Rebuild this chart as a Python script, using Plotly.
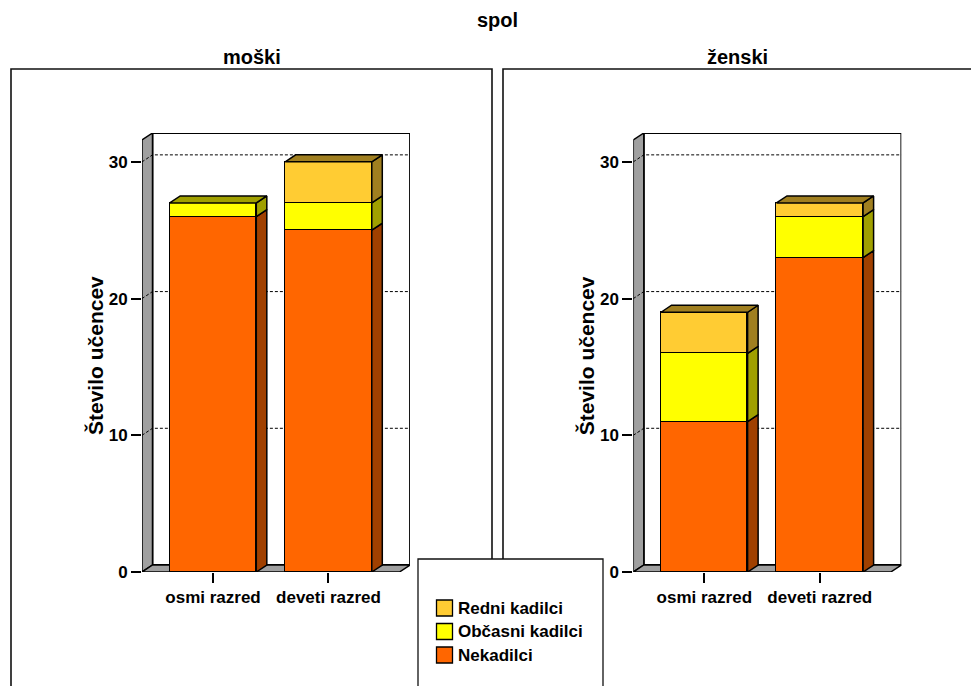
import plotly.graph_objects as go

# ---- data -------------------------------------------------------------
razredi = ["osmi razred", "deveti razred"]
skupine = ["Nekadilci", "Občasni kadilci", "Redni kadilci"]

nekadilci_m = [26, 25]
obcasni_m = [1, 2]
redni_m = [0, 3]

nekadilci_z = [11, 23]
obcasni_z = [5, 3]
redni_z = [3, 1]

y_ticks = [0, 10, 20, 30]

# ---- styling ----------------------------------------------------------
FRONT = {"Nekadilci": "#FF6600", "Občasni kadilci": "#FFFF00", "Redni kadilci": "#FFCC33"}
SHADE = {"Nekadilci": "#A04000", "Občasni kadilci": "#A0A000", "Redni kadilci": "#A07F20"}
WALL = "#A0A0A0"
FONT = "Arial, 'Liberation Sans', sans-serif"
W, H = 971, 686
LW = 1.5

# pseudo-3D geometry (axis units)
BAR_W = 0.75
X0 = -0.615          # front left edge
X1 = 1.615           # front right edge
DX = 0.091           # depth offset along x
DY = 0.512           # depth offset along y
YF = 31.6            # front top of the value axis
YTOP = YF + DY


def px(x):
    return x / W


def py(y):
    return 1 - y / H


def label(text, x, y, size, **kw):
    d = dict(text="<b>%s</b>" % text, xref="paper", yref="paper", x=px(x), y=py(y),
             showarrow=False, xanchor="center", yanchor="middle",
             font=dict(size=size, family=FONT, color="black"))
    d.update(kw)
    return d


fig = go.Figure()

panels = [
    ("moški", "x", "y", [nekadilci_m, obcasni_m, redni_m], (142, 410), 251.5, (11, 492)),
    ("ženski", "x2", "y2", [nekadilci_z, obcasni_z, redni_z], (633.3, 901.3), 737, (503, 980)),
]

shapes = []
annotations = []

for name, xa, ya, series, (dx0, dx1), title_x, (fx0, fx1) in panels:
    # outer panel frame
    shapes.append(dict(type="rect", xref="paper", yref="paper",
                       x0=px(fx0), x1=px(fx1), y0=-0.2, y1=py(69),
                       line=dict(color="#111", width=1.6), layer="below"))
    annotations.append(label(name, title_x, 57, 20))
    annotations.append(label("Število učencev", dx0 - 47, 356, 21, textangle=-90))

    line = dict(color="black", width=LW)
    # back wall
    shapes.append(dict(type="rect", xref=xa, yref=ya, x0=X0 + DX, x1=X1 + DX,
                       y0=DY, y1=YTOP, fillcolor="white", line=dict(color="black", width=1.8),
                       layer="below"))
    # left side wall
    shapes.append(dict(type="path", xref=xa, yref=ya,
                       path="M%f,%f L%f,%f L%f,%f L%f,%f Z" % (X0, 0, X0, YF, X0 + DX, YTOP, X0 + DX, DY),
                       fillcolor=WALL, line=line, layer="below"))
    # floor
    shapes.append(dict(type="path", xref=xa, yref=ya,
                       path="M%f,%f L%f,%f L%f,%f L%f,%f Z" % (X0, 0, X1, 0, X1 + DX, DY, X0 + DX, DY),
                       fillcolor=WALL, line=line, layer="below"))
    # dashed grid on side wall + back wall
    for v in y_ticks[1:]:
        shapes.append(dict(type="path", xref=xa, yref=ya,
                           path="M%f,%f L%f,%f L%f,%f" % (X0, v, X0 + DX, v + DY, X1 + DX, v + DY),
                           line=dict(color="black", width=1, dash="3px,2px"), layer="below"))

    # stacked bar fronts
    base = [0] * len(razredi)
    tops = [0] * len(razredi)
    top_group = [None] * len(razredi)
    for grp, vals in zip(skupine, series):
        fig.add_trace(go.Bar(x=[0, 1], y=vals, width=BAR_W, xaxis=xa, yaxis=ya,
                             name=grp, showlegend=False, hoverinfo="skip",
                             marker=dict(color=FRONT[grp], line=dict(color="black", width=LW))))
        # right side faces of each segment
        sx, sy = [], []
        for i, v in enumerate(vals):
            if v <= 0:
                continue
            xr = i + BAR_W / 2
            b, t = base[i], base[i] + v
            sx += [xr, xr + DX, xr + DX, xr, xr, None]
            sy += [b, b + DY, t + DY, t, b, None]
            tops[i] = t
            top_group[i] = grp
            base[i] = t
        if sx:
            fig.add_trace(go.Scatter(x=sx, y=sy, xaxis=xa, yaxis=ya, mode="lines",
                                     fill="toself", fillcolor=SHADE[grp], line=line,
                                     showlegend=False, hoverinfo="skip"))
    # top faces, coloured like the uppermost segment
    for i, t in enumerate(tops):
        grp = top_group[i]
        xl, xr = i - BAR_W / 2, i + BAR_W / 2
        fig.add_trace(go.Scatter(x=[xl, xr, xr + DX, xl + DX, xl],
                                 y=[t, t, t + DY, t + DY, t],
                                 xaxis=xa, yaxis=ya, mode="lines", fill="toself",
                                 fillcolor=SHADE[grp], line=line,
                                 showlegend=False, hoverinfo="skip"))

# legend panel
LEG_X0, LEG_X1, LEG_Y0 = 418, 603, 559
shapes.append(dict(type="rect", xref="paper", yref="paper", x0=px(LEG_X0), x1=px(LEG_X1),
                   y0=-0.2, y1=py(LEG_Y0), fillcolor="white",
                   line=dict(color="#111", width=1.3), layer="above"))
legend_rows = [("Redni kadilci", 608), ("Občasni kadilci", 631.5), ("Nekadilci", 655)]
for grp, yc in legend_rows:
    shapes.append(dict(type="rect", xref="paper", yref="paper",
                       x0=px(436.5), x1=px(452.5), y0=py(yc + 8), y1=py(yc - 8),
                       fillcolor=FRONT[grp], line=dict(color="black", width=1.3), layer="above"))
    annotations.append(label(grp, 456, yc, 17, xanchor="left"))

annotations.append(label("spol", 497, 20, 20))

tickfont = dict(size=17, family=FONT, color="black", weight="bold")
axis_common_x = dict(range=[X0, X1 + DX], tickvals=[0, 1], ticktext=razredi, ticks="outside",
                     ticklen=10, tickwidth=1.5, tickcolor="black", showgrid=False,
                     zeroline=False, showline=False, fixedrange=True, automargin=False,
                     tickfont=tickfont)
axis_common_y = dict(range=[0, YTOP], tickvals=y_ticks, ticks="outside", ticklen=10,
                     tickwidth=1.5, tickcolor="black", showgrid=False, zeroline=False,
                     showline=False, fixedrange=True, automargin=False, tickfont=tickfont)

YD = [py(572), py(133)]
fig.update_layout(
    width=W, height=H,
    margin=dict(l=0, r=0, t=0, b=0, pad=0, autoexpand=False),
    paper_bgcolor="white", plot_bgcolor="rgba(0,0,0,0)",
    barmode="stack", bargap=0, showlegend=False,
    xaxis=dict(domain=[px(142), px(410)], anchor="y", **axis_common_x),
    yaxis=dict(domain=YD, anchor="x", **axis_common_y),
    xaxis2=dict(domain=[px(633.3), px(901.3)], anchor="y2", **axis_common_x),
    yaxis2=dict(domain=YD, anchor="x2", **axis_common_y),
    shapes=shapes, annotations=annotations,
)

fig.write_html("out.html")
